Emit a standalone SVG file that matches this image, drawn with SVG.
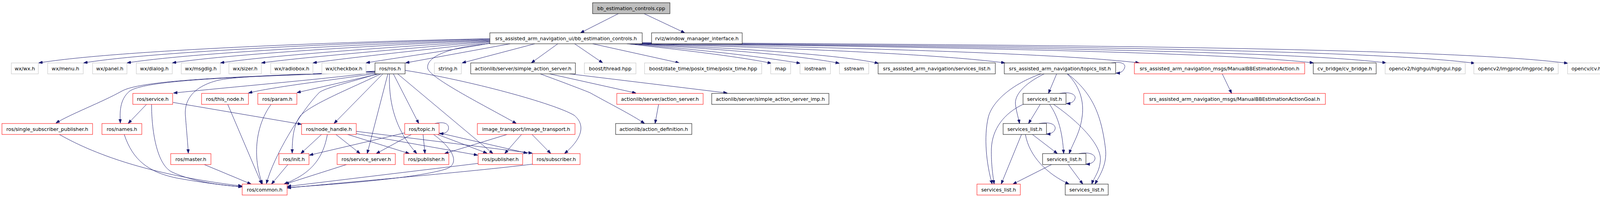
<svg xmlns="http://www.w3.org/2000/svg" width="4115" height="504" viewBox="0 0 4115 504">
<style>
rect{fill:#ffffff;stroke-width:1}
.b{stroke:#000000}
.r{stroke:#ff0000}
.g{stroke:#bfbfbf}
.top{fill:#bfbfbf;stroke:#000000}
text{font-family:"DejaVu Sans","Liberation Sans",sans-serif;font-size:12.7px;text-anchor:middle;fill:#000000}
#edges path{fill:none;stroke:#191970;stroke-width:1;marker-end:url(#ah)}
</style>
<defs>
<marker id="ah" markerUnits="userSpaceOnUse" markerWidth="10" markerHeight="8" refX="10" refY="3.5" orient="auto">
<path d="M0,0 L10,3.5 L0,7 z" fill="#191970" stroke="#191970" stroke-width="1"/>
</marker>
</defs>
<rect x="0" y="0" width="4115" height="504" style="fill:#ffffff;stroke:none"/>
<g id="edges">
<path d="M1583,35 L1486,84"/>
<path d="M1649,35 L1753,84"/>
<path d="M1254,99 C900,106 300,128 99,161"/>
<path d="M1254,100 C950,108 400,130 214,161"/>
<path d="M1254,102 C1000,110 500,133 325,161"/>
<path d="M1254,103 C1050,112 600,136 441,161"/>
<path d="M1254,105 C1100,114 700,140 564,161"/>
<path d="M1254,106 C1150,116 800,143 669,161"/>
<path d="M1254,108 C1180,118 900,146 801,161"/>
<path d="M1256,110 C1200,122 1000,150 937,161"/>
<path d="M1306,112 L1038,161"/>
<path d="M1369,112 L1183,161"/>
<path d="M1428,112 L1360,161"/>
<path d="M1471,112 L1543,161"/>
<path d="M1517,112 L1739,161"/>
<path d="M1258,111 C1150,120 1090,145 1095,175 C1100,200 1250,275 1322,316"/>
<path d="M1605,112 C1750,128 1900,146 1975,162"/>
<path d="M1612,112 C1800,128 1950,145 2049,162"/>
<path d="M1620,112 C1850,126 2050,142 2149,162"/>
<path d="M1628,112 C1900,124 2150,140 2249,162"/>
<path d="M1636,112 C2000,122 2400,138 2573,161"/>
<path d="M1640,112 C2100,120 2700,135 2917,161"/>
<path d="M1642,111 C2200,118 3100,130 3363,161"/>
<path d="M1643,111 C2300,117 3300,128 3549,161"/>
<path d="M1644,110 C2400,116 3500,124 3776,162"/>
<path d="M1644,109 C2500,114 3700,120 4014,162"/>
<path d="M960,186 C800,205 600,222 444,238"/>
<path d="M962,188 C850,205 700,222 636,238"/>
<path d="M970,189 L760,237"/>
<path d="M960,184 C700,195 380,200 332,233 C305,255 307,290 308,315"/>
<path d="M960,183 C700,194 370,200 312,233 C260,262 180,292 143,315"/>
<path d="M960,182 C800,190 620,193 560,205 C490,222 470,260 475,300 C478,340 481,370 482,392"/>
<path d="M965,189 C900,210 830,225 817,237 C770,285 700,400 682,470"/>
<path d="M975,189 C900,225 800,265 770,295 C750,320 748,360 748,392"/>
<path d="M980,189 L855,316"/>
<path d="M993,189 L940,393"/>
<path d="M997,189 C995,260 1010,330 1067,393"/>
<path d="M1007,189 L1072,316"/>
<path d="M1018,189 L1262,393"/>
<path d="M1037,180 C1200,205 1420,265 1470,295 C1500,320 1490,355 1445,393"/>
<path d="M375,267 L328,316"/>
<path d="M388,267 C388,330 400,420 440,440 C500,468 580,475 620,478"/>
<path d="M443,262 L772,318"/>
<path d="M318,344 C340,410 380,440 450,455 C520,468 590,476 620,478"/>
<path d="M152,344 C250,400 400,450 620,476"/>
<path d="M523,421 L643,471"/>
<path d="M583,267 L670,471"/>
<path d="M694,267 C655,320 645,400 672,471"/>
<path d="M737,421 L695,471"/>
<path d="M838,344 C825,420 780,450 727,471"/>
<path d="M823,344 L770,393"/>
<path d="M887,421 L730,471"/>
<path d="M1036,340 L792,397"/>
<path d="M860,344 L922,393"/>
<path d="M890,344 L1048,393"/>
<path d="M912,342 L1223,397"/>
<path d="M912,336 L1363,392"/>
<path d="M1113,316 C1140,310 1150,318 1148,330 C1146,340 1135,342 1125,342"/>
<path d="M1053,344 L963,393"/>
<path d="M1083,344 L1088,393"/>
<path d="M1120,344 L1247,392"/>
<path d="M1124,340 L1350,392"/>
<path d="M1110,344 C1160,380 1180,420 1140,433 C1050,460 800,475 735,480"/>
<path d="M1298,344 L1138,393"/>
<path d="M1335,344 L1292,393"/>
<path d="M1362,344 L1410,393"/>
<path d="M1224,418 L735,477"/>
<path d="M1363,420 C1200,440 900,465 735,481"/>
<path d="M1407,189 L1628,238"/>
<path d="M1383,189 C1440,210 1480,225 1510,237 C1560,265 1620,295 1650,316"/>
<path d="M1458,189 L1862,238"/>
<path d="M1686,267 L1677,316"/>
<path d="M3129,189 L3153,239"/>
<path d="M2845,161 C2875,156 2882,166 2879,173 C2876,183 2868,187 2857,187"/>
<path d="M2705,189 L2684,239"/>
<path d="M2673,189 C2620,215 2595,245 2600,270 C2603,290 2608,305 2610,316"/>
<path d="M2732,189 C2770,225 2775,270 2770,300 C2765,340 2745,370 2737,393"/>
<path d="M2665,189 C2590,215 2540,260 2530,300 C2518,350 2525,420 2540,471"/>
<path d="M2733,189 C2800,240 2820,300 2830,380 C2835,420 2815,450 2803,471"/>
<path d="M2713,239 C2745,233 2755,245 2752,252 C2750,260 2742,265 2730,265"/>
<path d="M2663,267 L2633,316"/>
<path d="M2687,267 C2710,300 2720,340 2723,393"/>
<path d="M2619,267 C2570,290 2540,330 2538,380 C2537,420 2542,450 2545,471"/>
<path d="M2697,267 C2760,310 2820,370 2817,410 C2815,440 2800,455 2795,471"/>
<path d="M2660,316 C2695,310 2703,322 2701,330 C2699,338 2690,343 2679,343"/>
<path d="M2643,344 L2707,393"/>
<path d="M2615,344 L2563,471"/>
<path d="M2625,344 C2635,400 2680,445 2737,471"/>
<path d="M2762,393 C2795,387 2805,399 2803,407 C2801,415 2792,420 2780,420"/>
<path d="M2692,421 L2593,471"/>
<path d="M2735,421 L2772,471"/>
</g>
<g id="n_cpp"><rect class="top" x="1517" y="7" width="198" height="28"/><text x="1616" y="25.5">bb_estimation_controls.cpp</text></g>
<g id="n_bbh"><rect class="b" x="1254" y="84" width="390" height="28"/><text x="1449" y="102.5">srs_assisted_arm_navigation_ui/bb_estimation_controls.h</text></g>
<g id="n_rviz"><rect class="b" x="1668" y="84" width="232" height="28"/><text x="1784" y="102.5">rviz/window_manager_interface.h</text></g>
<g id="n_wx"><rect class="g" x="29" y="161" width="69" height="28"/><text x="63.5" y="179.5">wx/wx.h</text></g>
<g id="n_menu"><rect class="g" x="122" y="161" width="91" height="28"/><text x="167.5" y="179.5">wx/menu.h</text></g>
<g id="n_panel"><rect class="g" x="237" y="161" width="88" height="28"/><text x="281" y="179.5">wx/panel.h</text></g>
<g id="n_dialog"><rect class="g" x="349" y="161" width="92" height="28"/><text x="395" y="179.5">wx/dialog.h</text></g>
<g id="n_msgdlg"><rect class="g" x="464" y="161" width="100" height="28"/><text x="514" y="179.5">wx/msgdlg.h</text></g>
<g id="n_sizer"><rect class="g" x="586" y="161" width="83" height="28"/><text x="627.5" y="179.5">wx/sizer.h</text></g>
<g id="n_radiobox"><rect class="g" x="693" y="161" width="108" height="28"/><text x="747" y="179.5">wx/radiobox.h</text></g>
<g id="n_checkbox"><rect class="g" x="824" y="161" width="113" height="28"/><text x="880.5" y="179.5">wx/checkbox.h</text></g>
<g id="n_ros"><rect class="b" x="960" y="161" width="77" height="28"/><text x="998.5" y="179.5">ros/ros.h</text></g>
<g id="n_string"><rect class="g" x="1112" y="161" width="69" height="28"/><text x="1146.5" y="179.5">string.h</text></g>
<g id="n_sas"><rect class="b" x="1205" y="161" width="268" height="28"/><text x="1339" y="179.5">actionlib/server/simple_action_server.h</text></g>
<g id="n_thread"><rect class="g" x="1496" y="161" width="132" height="28"/><text x="1562" y="179.5">boost/thread.hpp</text></g>
<g id="n_posix"><rect class="g" x="1650" y="161" width="300" height="28"/><text x="1800" y="179.5">boost/date_time/posix_time/posix_time.hpp</text></g>
<g id="n_map"><rect class="g" x="1973" y="161" width="51" height="28"/><text x="1998.5" y="179.5">map</text></g>
<g id="n_iostream"><rect class="g" x="2048" y="161" width="78" height="28"/><text x="2087" y="179.5">iostream</text></g>
<g id="n_sstream"><rect class="g" x="2149" y="161" width="75" height="28"/><text x="2186.5" y="179.5">sstream</text></g>
<g id="n_srssl"><rect class="b" x="2248" y="161" width="300" height="28"/><text x="2398" y="179.5">srs_assisted_arm_navigation/services_list.h</text></g>
<g id="n_topics"><rect class="b" x="2571" y="161" width="285" height="28"/><text x="2713.5" y="179.5">srs_assisted_arm_navigation/topics_list.h</text></g>
<g id="n_action"><rect class="r" x="2904" y="161" width="436" height="28"/><text x="3122" y="179.5">srs_assisted_arm_navigation_msgs/ManualBBEstimationAction.h</text></g>
<g id="n_cvbridge"><rect class="b" x="3362" y="161" width="161" height="28"/><text x="3442.5" y="179.5">cv_bridge/cv_bridge.h</text></g>
<g id="n_highgui"><rect class="g" x="3546" y="161" width="205" height="28"/><text x="3648.5" y="179.5">opencv2/highgui/highgui.hpp</text></g>
<g id="n_imgproc"><rect class="g" x="3773" y="161" width="216" height="28"/><text x="3881" y="179.5">opencv2/imgproc/imgproc.hpp</text></g>
<g id="n_cv"><rect class="g" x="4013" y="161" width="96" height="28"/><text x="4061" y="179.5">opencv/cv.h</text></g>
<g id="n_service"><rect class="r" x="340" y="239" width="102" height="28"/><text x="391" y="257.5">ros/service.h</text></g>
<g id="n_thisnode"><rect class="r" x="516" y="239" width="120" height="28"/><text x="576" y="257.5">ros/this_node.h</text></g>
<g id="n_param"><rect class="r" x="660" y="239" width="100" height="28"/><text x="710" y="257.5">ros/param.h</text></g>
<g id="n_actserver"><rect class="r" x="1579" y="239" width="221" height="28"/><text x="1689.5" y="257.5">actionlib/server/action_server.h</text></g>
<g id="n_sasimp"><rect class="b" x="1822" y="239" width="300" height="28"/><text x="1972" y="257.5">actionlib/server/simple_action_server_imp.h</text></g>
<g id="n_sl3"><rect class="b" x="2619" y="239" width="110" height="28"/><text x="2674" y="257.5">services_list.h</text></g>
<g id="n_goal"><rect class="r" x="2928" y="239" width="465" height="28"/><text x="3160.5" y="257.5">srs_assisted_arm_navigation_msgs/ManualBBEstimationActionGoal.h</text></g>
<g id="n_ssp"><rect class="r" x="5" y="316" width="232" height="28"/><text x="121" y="334.5">ros/single_subscriber_publisher.h</text></g>
<g id="n_names"><rect class="r" x="261" y="316" width="102" height="28"/><text x="312" y="334.5">ros/names.h</text></g>
<g id="n_nodehandle"><rect class="r" x="772" y="316" width="140" height="28"/><text x="842" y="334.5">ros/node_handle.h</text></g>
<g id="n_topic"><rect class="r" x="1036" y="316" width="88" height="28"/><text x="1080" y="334.5">ros/topic.h</text></g>
<g id="n_imgtr"><rect class="r" x="1222" y="316" width="250" height="28"/><text x="1347" y="334.5">image_transport/image_transport.h</text></g>
<g id="n_actdef"><rect class="b" x="1576" y="316" width="195" height="28"/><text x="1673.5" y="334.5">actionlib/action_definition.h</text></g>
<g id="n_sl4"><rect class="b" x="2568" y="316" width="111" height="28"/><text x="2623.5" y="334.5">services_list.h</text></g>
<g id="n_master"><rect class="r" x="437" y="393" width="103" height="28"/><text x="488.5" y="411.5">ros/master.h</text></g>
<g id="n_init"><rect class="r" x="714" y="393" width="77" height="28"/><text x="752.5" y="411.5">ros/init.h</text></g>
<g id="n_srvserver"><rect class="r" x="863" y="393" width="149" height="28"/><text x="937.5" y="411.5">ros/service_server.h</text></g>
<g id="n_pub1"><rect class="r" x="1034" y="393" width="115" height="28"/><text x="1091.5" y="411.5">ros/publisher.h</text></g>
<g id="n_pub2"><rect class="r" x="1224" y="393" width="114" height="28"/><text x="1281" y="411.5">ros/publisher.h</text></g>
<g id="n_sub"><rect class="r" x="1363" y="393" width="122" height="28"/><text x="1424" y="411.5">ros/subscriber.h</text></g>
<g id="n_sl5"><rect class="b" x="2669" y="393" width="111" height="28"/><text x="2724.5" y="411.5">services_list.h</text></g>
<g id="n_common"><rect class="r" x="620" y="471" width="115" height="28"/><text x="677.5" y="489.5">ros/common.h</text></g>
<g id="n_sl6r"><rect class="r" x="2501" y="471" width="111" height="28"/><text x="2556.5" y="489.5">services_list.h</text></g>
<g id="n_sl6b"><rect class="b" x="2727" y="471" width="110" height="28"/><text x="2782" y="489.5">services_list.h</text></g>
</svg>
